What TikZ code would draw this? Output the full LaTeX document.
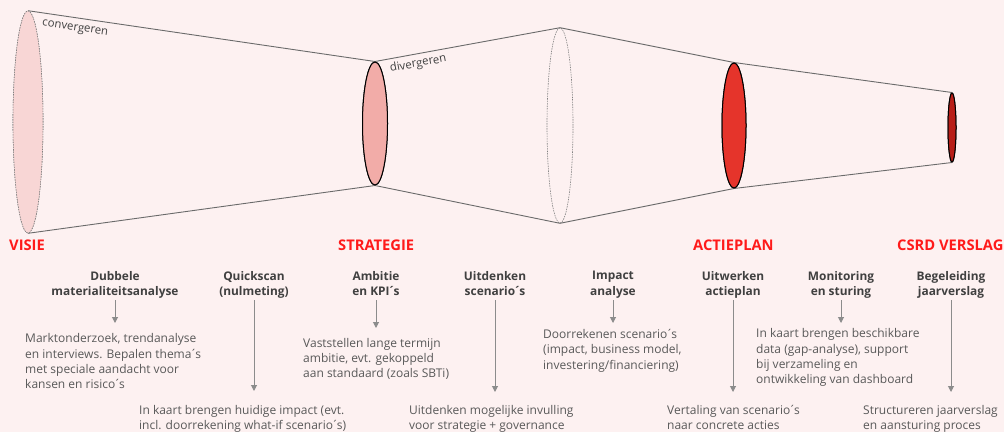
\documentclass[tikz,border=0pt]{standalone}
\usepackage{fontspec}
\setmainfont{Open Sans}
\usetikzlibrary{shapes.geometric,arrows.meta}
\definecolor{bg}{HTML}{FDF1F1}
\definecolor{f1}{HTML}{F8D6D5}
\definecolor{f2}{HTML}{F2ACA8}
\definecolor{f4}{HTML}{E5342B}
\definecolor{f5}{HTML}{B81E18}
\definecolor{txt}{HTML}{595959}
\definecolor{ttl}{HTML}{404040}
\definecolor{hred}{HTML}{FF1A1A}
\definecolor{cone}{HTML}{6A6A6A}
\definecolor{arrg}{HTML}{8C8C8C}
\newcommand\ap{\kern-0.12em´\kern-0.14em}
\begin{document}
\begin{tikzpicture}[x=1pt,y=-1pt,
  ell/.style={ellipse,inner sep=0pt,draw=black,line width=1pt},
  dell/.style={ellipse,inner sep=0pt,draw=gray,line width=0.6pt,dash pattern=on 1.5pt off 1pt},
  coneline/.style={draw=cone,line width=0.9pt},
  phase/.style={font=\fontsize{14.7}{17}\selectfont\bfseries,text=hred,inner sep=0pt,anchor=west},
  ttlnode/.style={font=\fontsize{11.9}{15.4}\selectfont\bfseries,text=ttl,align=center,inner sep=0pt,anchor=north},
  desc/.style={font=\fontsize{12}{15.3}\selectfont,text=txt,align=left,inner sep=0pt,anchor=north west},
  arr/.style={draw=arrg,line width=1pt,-{Triangle[width=6pt,length=6pt]}},
  lbl/.style={font=\fontsize{11.4}{13}\selectfont,text=ttl,inner sep=0pt}
]
\fill[bg] (0,0) rectangle (1004,432);
\useasboundingbox (0,0) rectangle (1004,432);
% ellipses
\node[dell,fill=f1,minimum width=30pt,minimum height=222pt] (e1) at (28,122) {};
\node[ell,fill=f2,minimum width=25pt,minimum height=123pt] (e2) at (375,123.5) {};
\node[dell,minimum width=26pt,minimum height=195pt] (e3) at (560,125.5) {};
\node[ell,fill=f4,minimum width=24pt,minimum height=125pt] (e4) at (734,125.5) {};
\node[ell,fill=f5,minimum width=8pt,minimum height=69pt] (e5) at (952,127.5) {};
% cone
\draw[coneline] (e1.north) -- (e2.north) -- (e3.north) -- (e4.north) -- (e5.north);
\draw[coneline] (e1.south) -- (e2.south) -- (e3.south) -- (e4.south) -- (e5.south);
% redraw ellipses above lines
\node[dell,fill=f1,minimum width=30pt,minimum height=222pt] at (e1) {};
\node[ell,fill=f2,minimum width=25pt,minimum height=123pt] at (e2) {};
\node[ell,fill=f4,minimum width=24pt,minimum height=125pt] at (e4) {};
\node[ell,fill=f5,minimum width=8pt,minimum height=69pt] at (e5) {};
\node[lbl,rotate=-8.4,anchor=west] (conv) at (42,24) {convergeren};
\node[lbl,rotate=10.4,anchor=west] (div) at (390,69) {divergeren};
% phase headings
\node[phase] (p1) at (9,245) {VISIE};
\node[phase] (p2) at (338,245) {STRATEGIE};
\node[phase] (p3) at (693,245) {ACTIEPLAN};
\node[phase] (p4) at (897,245) {CSRD VERSLAG};
% titles
\node[ttlnode] (t1) at (115,271) {Dubbele\\materialiteitsanalyse};
\node[ttlnode] (t2) at (254,271) {Quickscan\\(nulmeting)};
\node[ttlnode] (t3) at (376,271) {Ambitie\\en KPI\ap s};
\node[ttlnode] (t4) at (495,271) {Uitdenken\\scenario\ap s};
\node[ttlnode] (t5) at (613,271) {Impact\\analyse};
\node[ttlnode] (t6) at (733,271) {Uitwerken\\actieplan};
\node[ttlnode] (t7) at (841,271) {Monitoring\\en sturing};
\node[ttlnode] (t8) at (951,271) {Begeleiding\\jaarverslag};
% descriptions
\node[desc] (d1) at (25,333.5) {Marktonderzoek, trendanalyse\\en interviews. Bepalen thema\ap s\\met speciale aandacht voor\\kansen en risico\ap s};
\node[desc] (d2) at (139,405) {In kaart brengen huidige impact (evt.\\incl. doorrekening what-if scenario\ap s)};
\node[desc] (d3) at (303,338) {Vaststellen lange termijn\\ambitie, evt. gekoppeld\\aan standaard (zoals SBTi)};
\node[desc] (d4) at (409,405) {Uitdenken mogelijke invulling\\voor strategie + governance};
\node[desc] (d5) at (543,329) {Doorrekenen scenario\ap s\\(impact, business model,\\investering/financiering)};
\node[desc] (d6) at (667,405) {Vertaling van scenario\ap s\\naar concrete acties};
\node[desc] (d7) at (756,328.5) {In kaart brengen beschikbare\\data (gap-analyse), support\\bij verzameling en\\ontwikkeling van dashboard};
\node[desc] (d8) at (863,405) {Structureren jaarverslag\\en aansturing proces};
% arrow ends
\coordinate (a1) at (115,323);
\coordinate (a2) at (254,391);
\coordinate (a3) at (376,328);
\coordinate (a4) at (495,392);
\coordinate (a5) at (613,323);
\coordinate (a6) at (733,392);
\coordinate (a7) at (841,323);
\coordinate (a8) at (951,392);
\foreach \i in {1,...,8}{
  \draw[arr] (t\i.south |- 0,300) -- (a\i);
}
\end{tikzpicture}
\end{document}
